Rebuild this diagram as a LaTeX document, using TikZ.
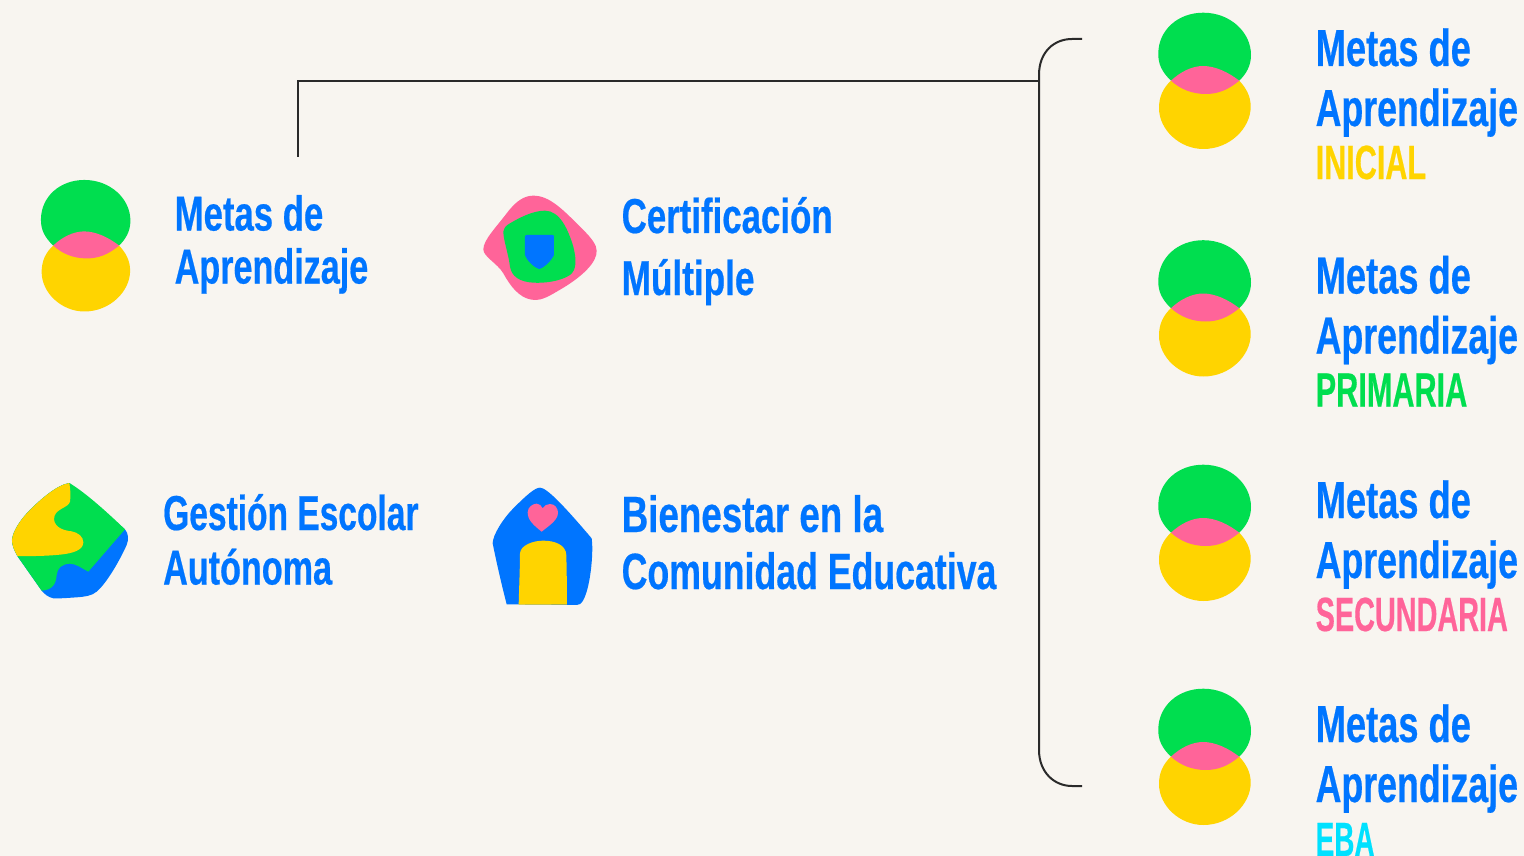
\documentclass[tikz,border=0pt]{standalone}
\usepackage{fontspec}
\newfontfamily\condfont[FakeStretch=0.66,BoldFeatures={FakeBold=0.4}]{Liberation Sans}
\definecolor{bgc}{HTML}{F8F5F0}
\definecolor{grn}{HTML}{00DE4F}
\definecolor{yel}{HTML}{FFD400}
\definecolor{pnk}{HTML}{FF6499}
\definecolor{blu}{HTML}{0075FF}
\definecolor{cya}{HTML}{00E1FF}
\definecolor{ink}{HTML}{2A2A2A}
\newcommand{\sx}[2]{\scalebox{#1}[1]{#2}}
\tikzset{
  big/.style={anchor=base west,inner sep=0pt,text=blu,font=\condfont\bfseries\fontsize{52}{52}\selectfont},
  mid/.style={anchor=base west,inner sep=0pt,text=blu,font=\condfont\bfseries\fontsize{49}{49}\selectfont},
  wid/.style={anchor=base west,inner sep=0pt,text=blu,font=\condfont\bfseries\fontsize{51}{51}\selectfont},
  lev/.style={anchor=base west,inner sep=0pt,font=\condfont\bfseries\fontsize{48}{48}\selectfont},
  conn/.style={draw=ink,line width=2pt}
}
\newcommand{\vennicon}[3]{%
\begin{scope}[shift={(#1,#2)},scale=#3]
\fill[grn] (31,80.7) .. controls (22,72) and (18,64) .. (18.3,53.3)
  .. controls (18.5,30) and (38,12.7) .. (63.3,12.7)
  .. controls (90,12.7) and (111,32) .. (111,55)
  .. controls (111,66) and (106,74) .. (99.3,80.7) -- cycle;
\fill[yel] (31,80.7) .. controls (23,88) and (19,97) .. (19,108)
  .. controls (19,130) and (40,149) .. (63.3,149)
  .. controls (90,149) and (110.7,128) .. (110.7,106.7)
  .. controls (110.7,96) and (106,88) .. (99.3,80.7) -- cycle;
\fill[pnk] (31,80.7) .. controls (40,72) and (52,66) .. (63,66)
  .. controls (75,66) and (88,72) .. (99.3,80.7)
  .. controls (88,90) and (78,94) .. (65.7,94)
  .. controls (52,94) and (40,89) .. (31,80.7) -- cycle;
\end{scope}}
\begin{document}
\begin{tikzpicture}[x=1pt,y=-1pt]
\useasboundingbox (0,0) rectangle (1524,856);
\fill[bgc] (0,0) rectangle (1524,856);
% connector
\coordinate (stem) at (298,157);
\coordinate (elbow) at (298,81);
\coordinate (join) at (1039,81);
\coordinate (brtop) at (1082,39);
\coordinate (brbot) at (1082,786);
\draw[conn] (stem) -- (elbow) -- (join);
\draw[conn] (brtop) -- ++(-10,0) .. controls +(-18,0) and (1039,52) .. (1039,75) -- (1039,750)
  .. controls (1039,772) and (1054,786) .. (1072,786) -- (brbot);
% venn icons
\vennicon{23.3}{167.7}{0.965}
\vennicon{1140}{0}{1}
\vennicon{1140}{227.5}{1}
\vennicon{1140}{452}{1}
\vennicon{1140}{676}{1}
% shield icon
\begin{scope}[shift={(470,180)},scale=0.3333]
\fill[pnk] (190,47) .. controls (240,47) and (280,90) .. (340,150)
  .. controls (365,175) and (380,195) .. (380,212)
  .. controls (382,245) and (340,290) .. (260,335)
  .. controls (235,350) and (215,360) .. (197,360)
  .. controls (160,360) and (130,335) .. (100,280)
  .. controls (82,250) and (40,230) .. (40,208)
  .. controls (40,180) and (80,140) .. (110,100)
  .. controls (140,60) and (165,47) .. (190,47) -- cycle;
\fill[grn] (100,155) .. controls (103,140) and (110,136) .. (120,130)
  .. controls (150,112) and (190,92) .. (225,92)
  .. controls (270,92) and (295,150) .. (310,200)
  .. controls (320,240) and (320,270) .. (300,285)
  .. controls (270,305) and (220,310) .. (190,308)
  .. controls (150,306) and (125,290) .. (120,260)
  .. controls (115,220) and (100,180) .. (100,155) -- cycle;
\fill[blu] (170,165) -- (247,165) .. controls (251,165) and (252,167) .. (252,171)
  -- (252,225) .. controls (245,240) and (225,262) .. (208,267)
  .. controls (190,262) and (170,240) .. (165,225) -- (165,171)
  .. controls (165,167) and (167,165) .. (170,165) -- cycle;
\end{scope}
% puzzle icon
\begin{scope}[shift={(0,460)},scale=0.3333]
\fill[blu] (208,69) -- (375,208) .. controls (385,220) and (387,238) .. (380,255)
  .. controls (360,300) and (320,370) .. (290,395)
  .. controls (275,408) and (255,410) .. (230,412)
  .. controls (200,414) and (175,416) .. (160,415)
  .. controls (145,412) and (133,402) .. (125,392) -- (52,288)
  .. controls (42,270) and (36,255) .. (36,240)
  .. controls (38,215) and (60,180) .. (90,150)
  .. controls (120,120) and (170,75) .. (208,69) -- cycle;
\fill[grn] (208,69) .. controls (260,100) and (330,165) .. (375,208)
  -- (265,335) .. controls (245,325) and (230,312) .. (210,311)
  .. controls (185,312) and (172,325) .. (170,345)
  .. controls (168,375) and (155,390) .. (125,392) -- (52,288)
  .. controls (42,270) and (36,255) .. (36,240)
  .. controls (38,215) and (60,180) .. (90,150)
  .. controls (120,120) and (170,75) .. (208,69) -- cycle;
\fill[yel] (208,69) .. controls (212,90) and (212,110) .. (210,125)
  .. controls (205,145) and (162,145) .. (162,178)
  .. controls (165,205) and (195,212) .. (215,214)
  .. controls (235,218) and (250,230) .. (250,247)
  .. controls (250,270) and (220,280) .. (180,284)
  .. controls (140,288) and (90,289) .. (52,288)
  .. controls (42,270) and (36,255) .. (36,240)
  .. controls (38,215) and (60,180) .. (90,150)
  .. controls (120,120) and (170,75) .. (208,69) -- cycle;
\end{scope}
% house icon
\begin{scope}[shift={(480,475)},scale=0.3333]
\fill[blu] (180,38) .. controls (200,38) and (250,90) .. (335,190)
  .. controls (340,220) and (335,300) .. (320,350)
  .. controls (312,375) and (305,390) .. (290,390)
  -- (80,388) .. controls (60,310) and (45,240) .. (38,205)
  .. controls (38,180) and (70,130) .. (100,100)
  .. controls (140,60) and (165,38) .. (180,38) -- cycle;
\fill[yel] (116,389) .. controls (118,320) and (120,270) .. (120,235)
  .. controls (122,210) and (160,197) .. (190,197)
  .. controls (225,197) and (258,210) .. (259,240)
  .. controls (260,280) and (261,340) .. (261,389) -- cycle;
\fill[pnk] (185,170) .. controls (160,150) and (143,135) .. (143,112)
  .. controls (143,95) and (160,86) .. (170,86)
  .. controls (178,86) and (185,92) .. (188,100)
  .. controls (192,92) and (200,87) .. (210,87)
  .. controls (225,87) and (234,100) .. (234,113)
  .. controls (234,135) and (210,150) .. (185,170) -- cycle;
\end{scope}
% left texts
\node[mid] (t1a) at (174.5,230.5) {\sx{1.074}{Metas de}};
\node[mid] (t1b) at (174.5,283.5) {\sx{1.056}{Aprendizaje}};
\node[mid] (t2a) at (621.5,233) {\sx{1.077}{Certificación}};
\node[mid] (t2b) at (621.5,295) {\sx{1.087}{Múltiple}};
\node[mid] (t3a) at (163,530) {\sx{1.037}{Gestión Escolar}};
\node[mid] (t3b) at (163,584.5) {\sx{1.056}{Autónoma}};
\node[wid] (t4a) at (621.5,532) {\sx{1.092}{Bienestar en la}};
\node[wid] (t4b) at (621.5,589) {\sx{1.06}{Comunidad Educativa}};
% right texts
\node[big] (r1a) at (1315.5,66) {\sx{1.057}{Metas de}};
\node[big] (r1b) at (1315.5,126) {\sx{1.04}{Aprendizaje}};
\node[lev,text=yel] (r1c) at (1315.5,179) {\sx{0.965}{INICIAL}};
\node[big] (r2a) at (1315.5,293.5) {\sx{1.057}{Metas de}};
\node[big] (r2b) at (1315.5,353.5) {\sx{1.04}{Aprendizaje}};
\node[lev,text=grn] (r2c) at (1315.5,406.5) {\sx{0.968}{PRIMARIA}};
\node[big] (r3a) at (1315.5,518) {\sx{1.057}{Metas de}};
\node[big] (r3b) at (1315.5,578) {\sx{1.04}{Aprendizaje}};
\node[lev,text=pnk] (r3c) at (1315.5,631) {\sx{0.91}{SECUNDARIA}};
\node[big] (r4a) at (1315.5,742) {\sx{1.057}{Metas de}};
\node[big] (r4b) at (1315.5,802) {\sx{1.04}{Aprendizaje}};
\node[lev,text=cya] (r4c) at (1315.5,856) {\sx{0.88}{EBA}};
\end{tikzpicture}
\end{document}
